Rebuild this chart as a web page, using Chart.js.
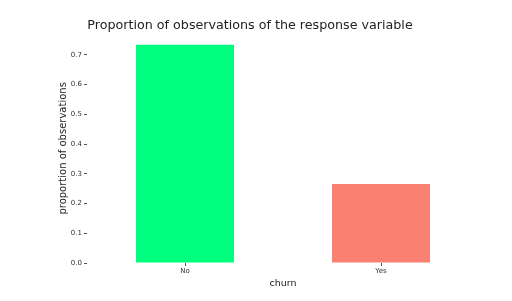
<!DOCTYPE html>
<html>
<head>
<meta charset="utf-8">
<script src="https://cdn.jsdelivr.net/npm/chart.js@4"></script>
<style>
  html, body { margin: 0; padding: 0; background: #fff; }
  #wrap { width: 512px; height: 301px; }
</style>
</head>
<body>
<div id="wrap"><canvas id="chart" width="512" height="301"></canvas></div>
<script>
const categories = ["No", "Yes"]
const proportions = [0.7346, 0.2654]
const barColors = ["#00FF7F", "#FA8072"]
const yTicks = [0.0, 0.1, 0.2, 0.3, 0.4, 0.5, 0.6, 0.7]

const font = "'DejaVu Sans', sans-serif"
const ctx = document.getElementById("chart").getContext("2d")

new Chart(ctx, {
  type: "bar",
  data: {
    labels: categories,
    datasets: [{
      data: proportions,
      backgroundColor: barColors,
      borderWidth: 0,
      barPercentage: 0.5,
      categoryPercentage: 1
    }]
  },
  options: {
    responsive: false,
    animation: false,
    // title centre sits a little left of the figure centre, so padding is uneven
    layout: { padding: { left: 0, right: 12, top: 0, bottom: 12 } },
    plugins: {
      legend: { display: false },
      tooltip: { enabled: false },
      title: {
        display: true,
        text: "Proportion of observations of the response variable",
        color: "#222",
        font: { family: font, size: 12.7, weight: "normal" },
        padding: { top: 18, bottom: 0.5 }
      }
    },
    scales: {
      x: {
        afterFit: s => { s.height = 26 },
        border: { display: false },
        grid: { display: true, offset: false, drawOnChartArea: false, drawTicks: true, tickLength: 3, color: "#555" },
        ticks: { color: "#333", font: { family: font, size: 7 }, padding: 1 },
        title: { display: true, text: "churn", color: "#222", font: { family: font, size: 9.5 }, padding: { top: 2, bottom: 0 } }
      },
      y: {
        min: 0,
        max: 0.7714,
        afterFit: s => { s.width = 87 },
        afterBuildTicks: s => { s.ticks = yTicks.map(v => ({ value: v })) },
        border: { display: false },
        grid: { display: true, drawOnChartArea: false, drawTicks: true, tickLength: 3, color: "#555" },
        ticks: { color: "#333", font: { family: font, size: 7 }, padding: 2, callback: v => v.toFixed(1) },
        title: { display: true, text: "proportion of observations", color: "#222", font: { family: font, size: 10 }, padding: { top: 57, bottom: 0 } }
      },
      spacer: {
        type: "linear",
        position: "right",
        display: true,
        afterFit: s => { s.width = 21 },
        border: { display: false },
        grid: { display: false },
        ticks: { display: false }
      }
    }
  }
})
</script>
</body>
</html>
